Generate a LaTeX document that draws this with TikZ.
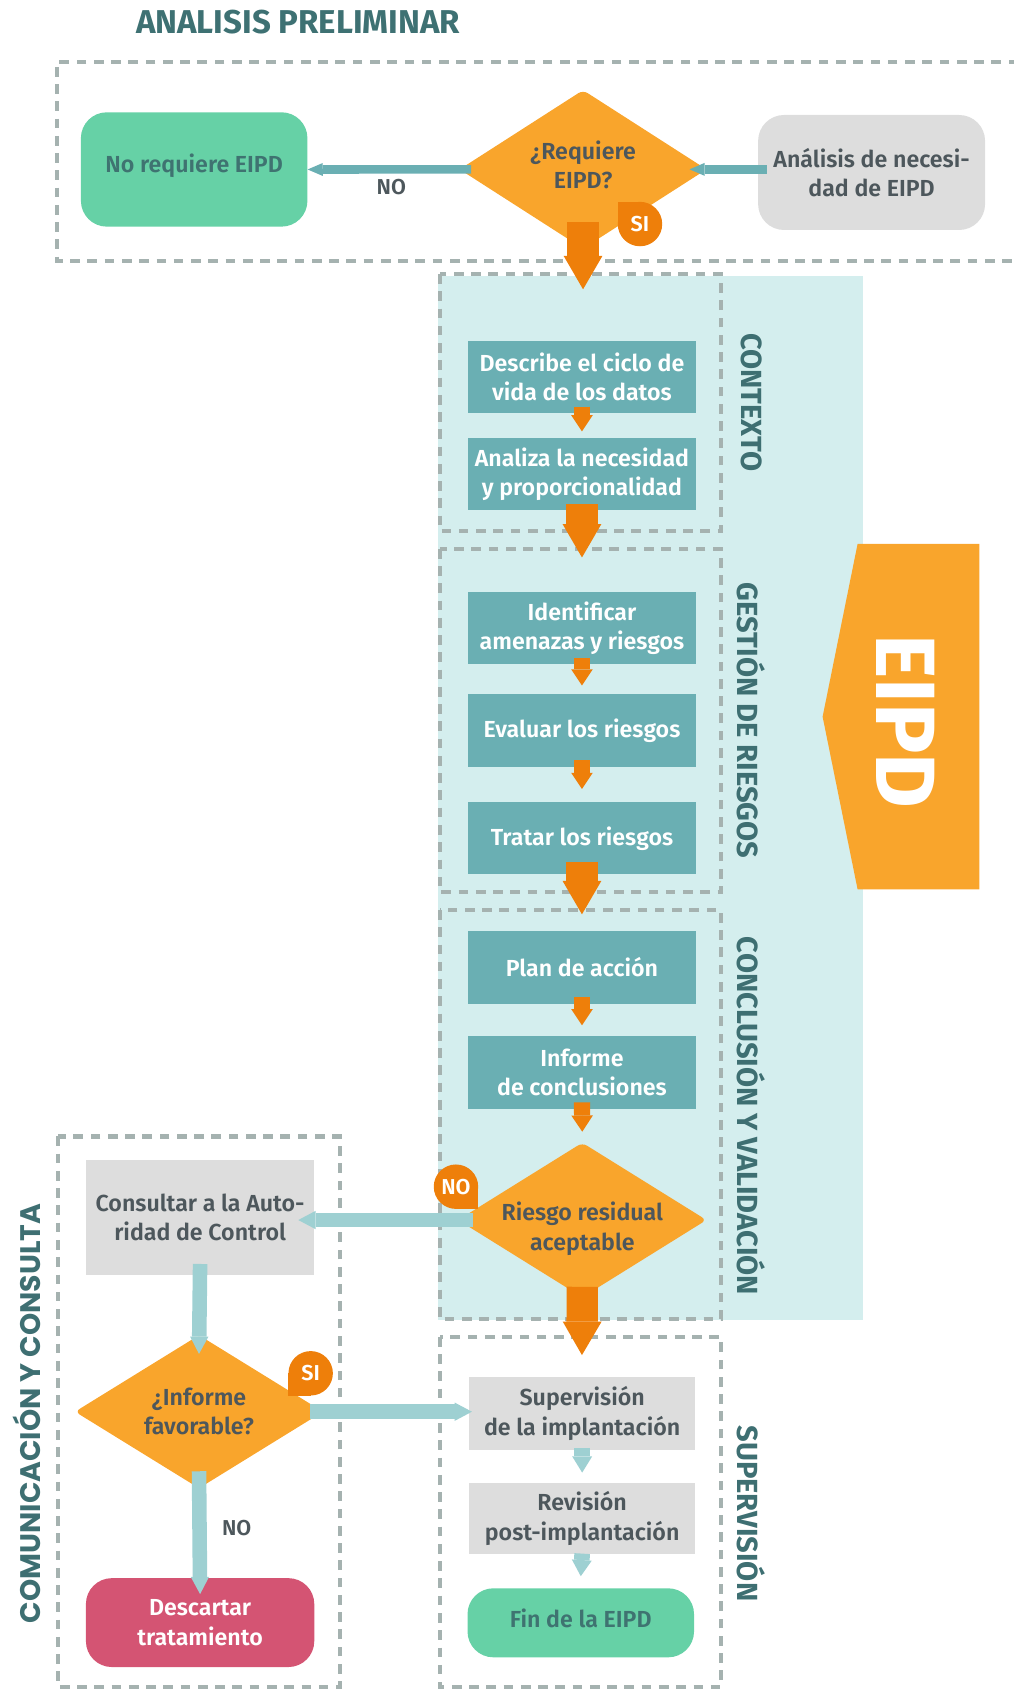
\documentclass[tikz,border=0pt]{standalone}
\usepackage{fontspec}
\setmainfont{Fira Sans}
\newfontfamily\semib{Fira Sans SemiBold}
\newfontfamily\popb{Poppins}
\usetikzlibrary{shapes.geometric,arrows.meta}
\definecolor{cTitle}{HTML}{3E7173}
\definecolor{cDash}{HTML}{A5B2B0}
\definecolor{cMint}{HTML}{66D1A6}
\definecolor{cMintTx}{HTML}{3F7371}
\definecolor{cOr}{HTML}{F9A52C}
\definecolor{cOrD}{HTML}{EE7F0A}
\definecolor{cGray}{HTML}{DDDDDD}
\definecolor{cTx}{HTML}{4D575C}
\definecolor{cTeal}{HTML}{6AAFB3}
\definecolor{cLight}{HTML}{D4EEEE}
\definecolor{cLTeal}{HTML}{9ED0D2}
\definecolor{cPink}{HTML}{D45473}
\definecolor{cLabel}{HTML}{3E6F72}
\newcommand{\vmove}[2]{\raisebox{#1}[\height][\depth]{\begin{tabular}{@{}c@{}}#2\end{tabular}}}
\begin{document}
\begin{tikzpicture}[x=1pt,y=-1pt,
  boxtxt/.style={font=\semib\fontsize{21.5}{27}\selectfont, align=center, inner sep=0pt},
  tealbox/.style={boxtxt, rectangle, fill=cTeal, text=white, minimum width=211pt, minimum height=67pt},
  graybox/.style={boxtxt, rectangle, fill=cGray, text=cTx, minimum width=211pt},
  mintbox/.style={boxtxt, rectangle, rounded corners=24pt, fill=cMint, text=cMintTx, minimum width=210pt},
  decision/.style={boxtxt, diamond, fill=cOr, text=cTx, rounded corners=5pt, inner sep=-8pt, aspect=1.6, minimum width=230pt, minimum height=144pt},
  dashbox/.style={draw=cDash, line width=4pt, dash pattern=on 9pt off 7pt},
  bigor/.style={draw=cOrD, line width=29pt, -{Triangle[width=36pt,length=31pt,line width=0pt]}},
  smallor/.style={draw=cOrD, line width=15pt, -{Triangle[width=20pt,length=15pt,line width=0pt]}},
  toparr/.style={draw=cTeal, line width=8pt, -{Triangle[width=12pt,length=14pt,line width=0pt]}},
  ltarr/.style={draw=cLTeal, line width=13.5pt, -{Triangle[width=17pt,length=16pt,line width=0pt]}},
  ltsmall/.style={draw=cLTeal, line width=14.5pt, -{Triangle[width=18.5pt,length=15pt,line width=0pt]}},
  badge/.style={circle, fill=cOrD, text=white, minimum size=41.2pt, inner sep=0pt, font=\semib\fontsize{20}{20}\selectfont},
  sidelabel/.style={font=\bfseries\fontsize{27}{27}\selectfont, text=cLabel, rotate=-90, inner sep=0pt},
  nolabel/.style={font=\semib\fontsize{20}{20}\selectfont, text=cTx, inner sep=0pt}
]
\useasboundingbox (0,0) rectangle (940,1566.7);

% background panel and EIPD banner
\fill[cLight] (406,256) rectangle (799.7,1223.7);
\fill[cOr] (795,504.3) -- (908,504.3) -- (908,824.4) -- (795,824.4) -- (762.6,664.4) -- cycle;
\node[font=\bfseries\fontsize{78}{78}\selectfont, text=white, rotate=-90, inner sep=0pt] (eipd) at (839.4,669) {EIPD};

% title
\node[anchor=base west, font=\bfseries\fontsize{30.6}{30.6}\selectfont, text=cTitle, inner sep=0pt] (title) at (126,30.9) {ANALISIS PRELIMINAR};

% dashed frames
\draw[dashbox] (960,57.2) -- (52.8,57.2) -- (52.8,241.7) -- (960,241.7);
\draw[dashbox] (407.6,254) rectangle (668.4,492.3);
\draw[dashbox] (407.6,508.8) rectangle (668.4,827.2);
\draw[dashbox] (407.6,843.6) rectangle (668.4,1223);
\draw[dashbox] (407.6,1239.3) rectangle (668.4,1564);
\draw[dashbox] (54,1053.5) rectangle (315,1564);

% section labels
\node[sidelabel] (lctx) at (696.6,373) {CONTEXTO};
\node[sidelabel] (lges) at (696.6,668) {GESTIÓN DE RIESGOS};
\node[sidelabel] (lcon) at (696.6,1034.5) {CONCLUSIÓN Y VALIDACIÓN};
\node[sidelabel] (lsup) at (696.6,1403) {SUPERVISIÓN};
\node[font=\popb\bfseries\fontsize{26.2}{26.2}\selectfont, text=cLabel, rotate=90, inner sep=0pt] (lcom) at (24.7,1310.4) {COMUNICACIÓN Y CONSULTA};

% preliminary analysis
\node[mintbox, minimum height=106pt] (noreq) at (180,157.1) {\vmove{3pt}{No requiere EIPD}};
\node[decision, minimum width=229pt, minimum height=147pt] (req) at (540.5,157) {\vmove{1.5pt}{¿Requiere\\EIPD?}};
\node[graybox, rounded corners=24pt, minimum width=210.4pt, minimum height=106.6pt] (anal) at (808,159.9) {Análisis de necesi-\\dad de EIPD};

% main column
\node[tealbox] (describe) at (539.5,349.3) {Describe el ciclo de\\vida de los datos};
\node[tealbox] (analiza) at (539.5,439.6) {Analiza la necesidad\\y proporcionalidad};
\node[tealbox] (ident) at (539.5,582.5) {Identificar\\amenazas y riesgos};
\node[tealbox] (evaluar) at (539.5,677.2) {Evaluar los riesgos};
\node[tealbox] (tratar) at (539.5,777.1) {Tratar los riesgos};
\node[tealbox] (plan) at (539.5,896.9) {Plan de acción};
\node[tealbox] (informe) at (539.5,994.2) {Informe\\de conclusiones};
\node[decision, minimum width=230.4pt, minimum height=143.4pt] (riesgo) at (539.8,1131) {\vmove{-9pt}{Riesgo residual\\aceptable}};

% supervision
\node[graybox, minimum width=210pt, minimum height=67.3pt] (superv) at (539.7,1310.3) {Supervisión\\de la implantación};
\node[graybox, minimum width=210pt, minimum height=66.7pt] (revision) at (539.7,1407.7) {Revisión\\post-implantación};
\node[mintbox, minimum height=64pt] (fin) at (538.4,1504.4) {\vmove{1.5pt}{Fin de la EIPD}};

% communication
\node[graybox, minimum width=211.7pt, minimum height=106.1pt] (consultar) at (185.5,1128.5) {Consultar a la Auto-\\ridad de Control};
\node[decision, minimum width=230pt, minimum height=142pt] (infdia) at (184.5,1308.7) {¿Informe\\favorable?};
\node[boxtxt, rectangle, rounded corners=24pt, fill=cPink, text=white, minimum width=211.7pt, minimum height=82.4pt] (descartar) at (185.5,1504.2) {Descartar\\tratamiento};

% connectors: preliminary
\coordinate (aW) at ([xshift=8pt]anal.west);
\draw[toparr] (aW |- req.east) -- ([xshift=-16pt]req.east);
\draw[toparr] ([xshift=11pt]req.west) -- (noreq.east);
\node[nolabel] (no1) at (362.8,173.7) {NO};
\coordinate (t1) at (540.5,268.2);
\draw[bigor] ([yshift=25pt]req.south) -- (t1);

% connectors: main column
\draw[smallor] ([yshift=6pt]describe.south) -- ([yshift=6pt]analiza.north);
\coordinate (t2) at (539.5,516.8);
\draw[bigor] ([yshift=6pt]analiza.south) -- (t2);
\draw[smallor] ([yshift=6pt]ident.south) -- ([yshift=8pt]evaluar.north);
\draw[smallor] ([yshift=6pt]evaluar.south) -- ([yshift=12pt]tratar.north);
\coordinate (t3) at (539.5,847.6);
\draw[bigor] ([yshift=12pt]tratar.south) -- (t3);
\draw[smallor] ([yshift=6pt]plan.south) -- ([yshift=10pt]informe.north);
\draw[smallor] ([yshift=6pt]informe.south) -- ([yshift=10pt]riesgo.north);
\coordinate (t4) at (539.5,1256.2);
\draw[bigor] ([yshift=10pt]riesgo.south) -- (t4);

% connectors: supervision
\draw[ltsmall] ([yshift=2pt]superv.south) -- ([yshift=9pt]revision.north);
\draw[ltsmall] ([yshift=1pt]revision.south) -- ([yshift=11pt]fin.north);

% connectors: communication
\coordinate (cE) at ([xshift=-15pt]consultar.east);
\draw[ltarr] ([xshift=14pt]riesgo.west) -- (cE |- riesgo.west);
\draw[ltarr] ([yshift=10pt]consultar.south) -- ([yshift=-17.6pt]infdia.north);
\coordinate (sW) at ([xshift=3pt]superv.west);
\draw[ltarr] ([xshift=-12pt]infdia.east) -- (sW |- infdia.east);
\draw[ltarr] ([yshift=16pt]infdia.south) -- ([yshift=-15pt]descartar.north);
\node[nolabel] (no3) at (219.4,1416.8) {NO};

% badges
\coordinate (b1) at (593.3,207.7);
\fill[cOrD] (b1) rectangle ++(-20.6,-20.6);
\node[badge] (si1) at (b1) {SI};
\coordinate (b2) at (422.7,1100.1);
\fill[cOrD] (b2) rectangle ++(20.6,20.6);
\node[badge] (no2) at (b2) {NO};
\coordinate (b3) at (288,1273.1);
\fill[cOrD] (b3) rectangle ++(-20.6,20.6);
\node[badge] (si3) at (b3) {SI};
\end{tikzpicture}
\end{document}
